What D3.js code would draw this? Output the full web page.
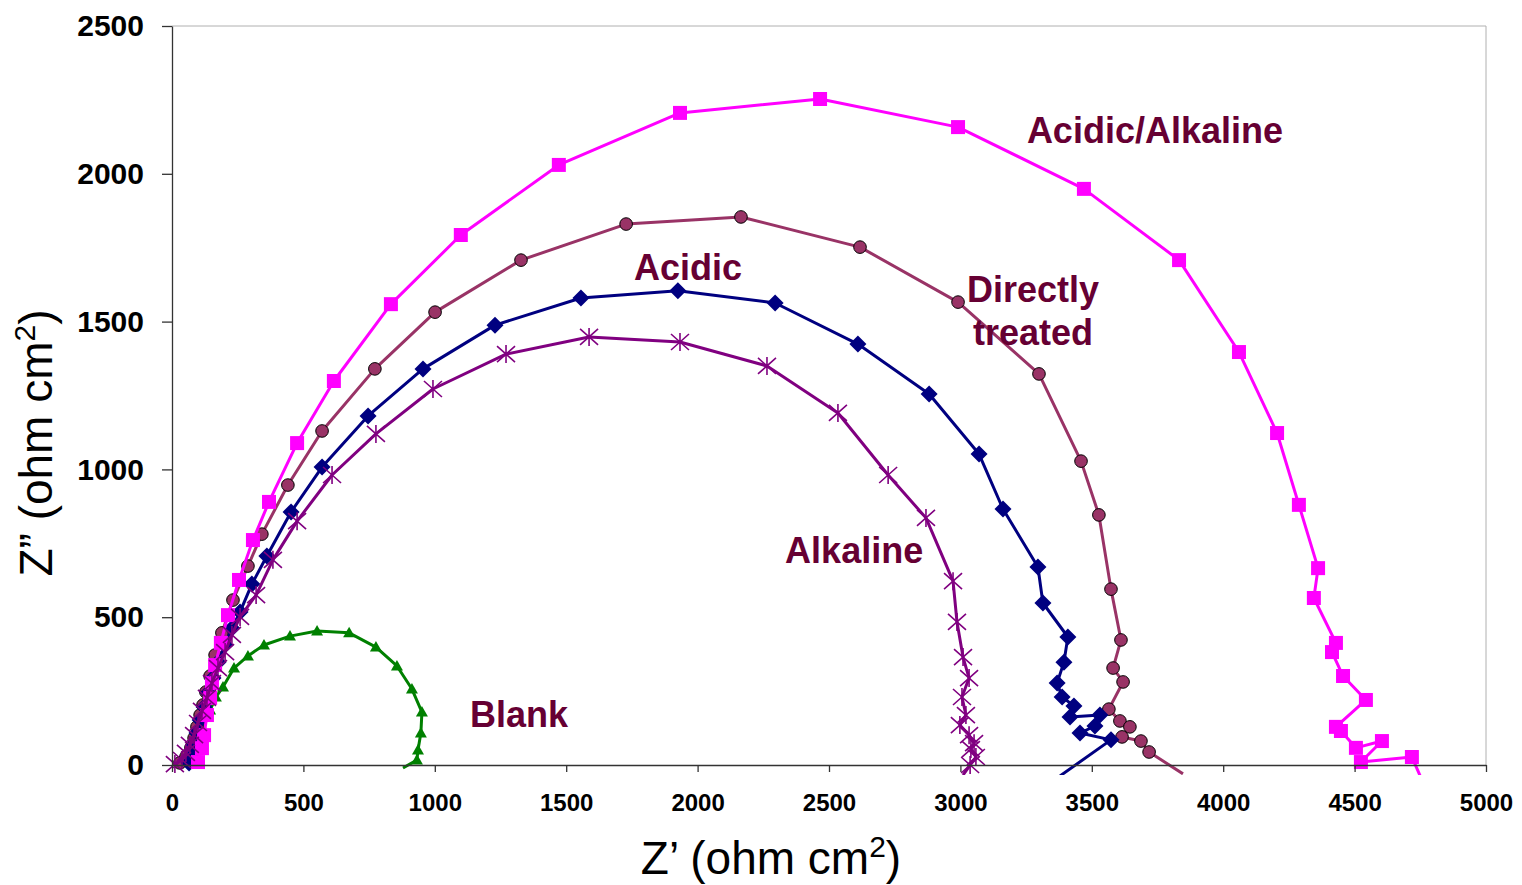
<!DOCTYPE html>
<html>
<head>
<meta charset="utf-8">
<title>Nyquist plot</title>
<script src="https://d3js.org/d3.v7.min.js"></script>
<style>
  body { margin: 0; background: #fff; font-family: "Liberation Sans", Arial, sans-serif; }
  svg { display: block; }
</style>
</head>
<body>
<svg id="chart" width="1522" height="885"></svg>
<script>
// data: [Z', Z''] in ohm cm2
const blank = [[68,10],[91,64],[118,125],[145,186],[167,230],[194,264],[236,328],[289,369],[350,406],[449,436],
  [552,453],[674,447],[776,399],[856,335],[913,257],[951,179],[947,108],[936,51],[932,17],[879,-10]];

const directly = [[30,7],[53,27],[72,58],[84,91],[95,129],[107,169],[118,203],[129,247],[145,301],[164,372],
  [190,447],[232,558],[289,673],[342,781],[441,947],[571,1130],[772,1340],[1001,1532],[1328,1708],[1728,1830],
  [2165,1854],[2618,1752],[2991,1566],[3299,1323],[3459,1028],[3527,846],[3573,595],[3611,423],[3581,328],
  [3619,281],[3565,189],[3607,149],[3645,129],[3615,95],[3687,81],[3718,44],[3847,-30]];

const acidic = [[65,7],[72,34],[84,68],[95,108],[107,152],[122,196],[137,244],[156,294],[175,348],[202,406],
  [228,463],[259,518],[304,612],[361,707],[453,856],[571,1008],[746,1181],[955,1340],[1229,1488],[1556,1580],
  [1925,1604],[2295,1563],[2610,1424],[2881,1255],[3071,1052],[3162,866],[3295,670],[3314,548],[3409,433],
  [3394,348],[3368,277],[3387,230],[3432,200],[3417,162],[3531,169],[3512,132],[3455,108],[3573,85],[3379,-37]];

const acidicAlkaline = [[99,10],[114,57],[122,101],[133,169],[145,227],[152,277],[164,338],[186,413],[213,507],
  [255,626],[308,761],[369,890],[476,1089],[616,1299],[833,1559],[1099,1793],[1472,2030],[1933,2206],
  [2466,2253],[2991,2158],[3470,1949],[3832,1708],[4060,1397],[4205,1123],[4288,880],[4361,666],[4345,565],
  [4429,413],[4414,382],[4456,301],[4543,220],[4429,129],[4448,115],[4505,58],[4604,81],[4524,10],[4718,27],[4753,-44]];

const alkaline = [[11,3],[38,17],[53,41],[68,68],[84,101],[99,142],[114,183],[133,227],[152,277],[175,328],
  [202,382],[228,440],[259,501],[320,575],[384,694],[476,825],[609,981],[776,1120],[993,1272],[1271,1390],
  [1587,1448],[1933,1431],[2264,1350],[2534,1191],[2725,981],[2869,836],[2972,622],[2987,484],[3010,365],
  [3033,294],[3006,230],[3021,169],[2998,135],[3033,101],[3052,74],[3040,54],[3059,27],[3037,0],[3010,-34]];

const xTicks = [0, 500, 1000, 1500, 2000, 2500, 3000, 3500, 4000, 4500, 5000];
const yTicks = [0, 500, 1000, 1500, 2000, 2500];

// series labels placed in data units
const labels = [
  { text: "Acidic/Alkaline", x: 3253, y: 2104, anchor: "start" },
  { text: "Acidic", x: 1758, y: 1641, anchor: "start" },
  { text: "Directly", x: 3276, y: 1566, anchor: "middle" },
  { text: "treated", x: 3276, y: 1421, anchor: "middle" },
  { text: "Alkaline", x: 2333, y: 683, anchor: "start" },
  { text: "Blank", x: 1134, y: 128, anchor: "start" }
];

const svg = d3.select("#chart");
const pLeft = 172, pRight = 1486, pTop = 26, pBottom = 765;

const x = d3.scaleLinear().domain([0, 5000]).range([pLeft, pRight]);
const y = d3.scaleLinear().domain([0, 2500]).range([pBottom, pTop]);

// plot frame (top/right)
svg.append("path")
  .attr("d", `M${pLeft},${pTop}H${pRight}V${pBottom}`)
  .attr("fill", "none")
  .attr("stroke", "#b0b0b0")
  .attr("stroke-width", 1);

svg.append("defs").append("clipPath").attr("id", "clip")
  .append("rect").attr("x", pLeft - 10).attr("y", pTop - 10)
  .attr("width", pRight - pLeft + 20).attr("height", pBottom - pTop + 20);

const markers = {
  square: "M-7,-7H7V7H-7Z",
  circle: d3.symbol(d3.symbolCircle, 125)(),
  diamond: "M0,-8.5L8.5,0L0,8.5L-8.5,0Z",
  triangle: "M0,-6L6,4.5L-6,4.5Z",
  star: "M-9,-8L9,8M-9,8L9,-8M0,-9V9"
};

const series = [
  { data: blank, color: "#008000", marker: "triangle", fill: "#008000", stroke: "none", width: 3 },
  { data: directly, color: "#993366", marker: "circle", fill: "#993366", stroke: "#000", width: 3 },
  { data: acidic, color: "#000080", marker: "diamond", fill: "#000080", stroke: "none", width: 3 },
  { data: acidicAlkaline, color: "#ff00ff", marker: "square", fill: "#ff00ff", stroke: "none", width: 3 },
  { data: alkaline, color: "#800080", marker: "star", fill: "none", stroke: "#800080", width: 3 }
];

const line = d3.line().x(d => x(d[0])).y(d => y(d[1]));
const plot = svg.append("g").attr("clip-path", "url(#clip)");

series.forEach(s => {
  const g = plot.append("g");
  g.append("path")
    .attr("d", line(s.data))
    .attr("fill", "none")
    .attr("stroke", s.color)
    .attr("stroke-width", s.width)
    .attr("stroke-linejoin", "round");
  g.selectAll("path.m")
    .data(s.data.filter(d => d[1] >= 0))
    .join("path")
      .attr("class", "m")
      .attr("transform", d => `translate(${x(d[0])},${y(d[1])})`)
      .attr("d", markers[s.marker])
      .attr("fill", s.fill)
      .attr("stroke", s.stroke)
      .attr("stroke-width", s.marker === "star" ? 1.6 : 1);
});

// axes
const xAxis = svg.append("g")
  .attr("transform", `translate(0,${pBottom})`)
  .call(d3.axisBottom(x).tickValues(xTicks).tickFormat(d3.format("d"))
    .tickSize(7).tickSizeOuter(0).tickPadding(22));
const yAxis = svg.append("g")
  .attr("transform", `translate(${pLeft},0)`)
  .call(d3.axisLeft(y).tickValues(yTicks).tickFormat(d3.format("d"))
    .tickSize(10).tickSizeOuter(0).tickPadding(18));

[xAxis, yAxis].forEach(a => {
  a.select(".domain").attr("stroke", "#333").attr("stroke-width", 1.3);
  a.selectAll(".tick line").attr("stroke", "#333").attr("stroke-width", 1.3);
  a.selectAll("text")
    .attr("fill", "#000")
    .attr("font-family", "Liberation Sans, Arial, sans-serif")
    .attr("font-weight", "bold");
});
xAxis.selectAll("text").attr("font-size", 24);
yAxis.selectAll("text").attr("font-size", 30);

// axis titles
const xt = svg.append("text")
  .attr("x", 771).attr("y", 874)
  .attr("text-anchor", "middle")
  .attr("font-size", 46)
  .attr("fill", "#000");
xt.append("tspan").text("Z\u2019 (ohm cm");
xt.append("tspan").attr("font-size", 30).attr("dy", -17).text("2");
xt.append("tspan").attr("dy", 17).text(")");

const yt = svg.append("text")
  .attr("transform", "translate(52,443) rotate(-90)")
  .attr("text-anchor", "middle")
  .attr("font-size", 46)
  .attr("fill", "#000");
yt.append("tspan").text("Z\u201d (ohm cm");
yt.append("tspan").attr("font-size", 30).attr("dy", -17).text("2");
yt.append("tspan").attr("dy", 17).text(")");

// series labels
svg.append("g").selectAll("text")
  .data(labels)
  .join("text")
    .attr("x", d => x(d.x))
    .attr("y", d => y(d.y))
    .attr("text-anchor", d => d.anchor)
    .attr("font-size", 36)
    .attr("font-weight", "bold")
    .attr("fill", "#660033")
    .text(d => d.text);
</script>
</body>
</html>
